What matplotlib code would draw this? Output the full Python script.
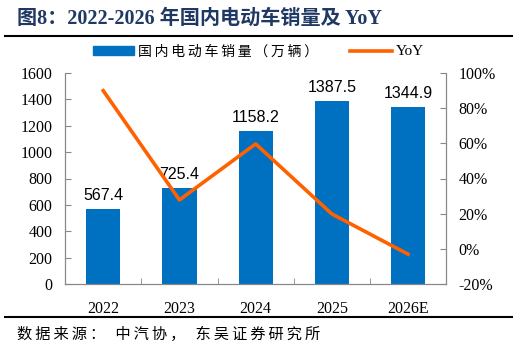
import numpy as np
import matplotlib
matplotlib.use("Agg")
import matplotlib.pyplot as plt
from matplotlib.lines import Line2D
from matplotlib.patches import Patch

# data
years = ["2022", "2023", "2024", "2025", "2026E"]
sales = [567.4, 725.4, 1158.2, 1387.5, 1344.9]
yoy = [90.0, 27.8, 59.7, 19.8, -3.1]
left_ticks = [0, 200, 400, 600, 800, 1000, 1200, 1400, 1600]
right_ticks = [-20, 0, 20, 40, 60, 80, 100]

bar_color = "#0070C0"
line_color = "#FF6100"
serif = ["Liberation Serif", "Noto Sans CJK SC"]
cjk = ["Noto Sans CJK SC", "DejaVu Sans"]

plt.rcParams["font.family"] = serif
plt.rcParams["font.size"] = 11


def spaced(s, gap="\u2009"):
    return gap.join(s)


fig = plt.figure(figsize=(5.17, 3.5), dpi=100)
ax = fig.add_axes([0.126, 0.189, 0.737, 0.602])
ax2 = ax.twinx()

x = np.arange(len(years))
ax.bar(x, sales, width=0.45, color=bar_color, zorder=2)
for xi, v in zip(x, sales):
    ax.text(xi, v + 45, f"{v:.1f}", ha="center", va="bottom",
            fontsize=11.5, family="Liberation Sans")

ax2.plot(x, yoy, color=line_color, lw=2.6, zorder=3)

ax.set_xlim(-0.5, len(years) - 0.5)
ax.set_ylim(0, 1600)
ax2.set_ylim(-20, 100)
ax.set_yticks(left_ticks)
ax2.set_yticks(right_ticks)
ax2.set_yticklabels([f"{t}%" for t in right_ticks])
ax.set_xticks(x)
ax.set_xticklabels(years)
ax.set_xticks(np.arange(len(years) + 1) - 0.5, minor=True)

for a in (ax, ax2):
    for s in a.spines.values():
        s.set_color("#888888")
        s.set_linewidth(0.8)
    a.spines["top"].set_visible(False)

ax.tick_params(axis="y", direction="in", length=4, color="#888888", pad=9,
               labelsize=11.5)
ax2.tick_params(axis="y", direction="in", length=4, color="#888888", pad=9,
                labelsize=11.5)
ax.tick_params(axis="x", which="major", length=0, pad=12, labelsize=11.5)
ax.tick_params(axis="x", which="minor", direction="in", length=4, color="#888888")

handles = [Patch(color=bar_color), Line2D([], [], color=line_color, lw=2.6)]
leg = fig.legend(handles, [spaced("国内电动车销量（万辆）"), "YoY"], loc="center",
                 bbox_to_anchor=(0.5, 0.853), ncol=2, frameon=False,
                 prop={"family": cjk, "size": 10}, handlelength=3.0,
                 columnspacing=2.3, handletextpad=0.3)
leg.get_texts()[1].set_family(serif)
leg.get_texts()[1].set_fontsize(11)

# title and source
fig.text(0.033, 0.945, "图8：2022-2026 年国内电动车销量及 YoY", ha="left",
         va="center", fontsize=14.5, fontweight="bold", color="#1F3864",
         family=serif)
fig.add_artist(Line2D([0.01, 0.99], [0.898, 0.898], color="black", lw=1.5))
fig.add_artist(Line2D([0.01, 0.99], [0.094, 0.094], color="black", lw=1.5))
fig.text(0.033, 0.045, spaced("数据来源：") + "   " + spaced("中汽协，") + "   "
         + spaced("东吴证券研究所"), ha="left", va="center", fontsize=11,
         family=cjk)

fig.savefig("out.png", dpi=100)
